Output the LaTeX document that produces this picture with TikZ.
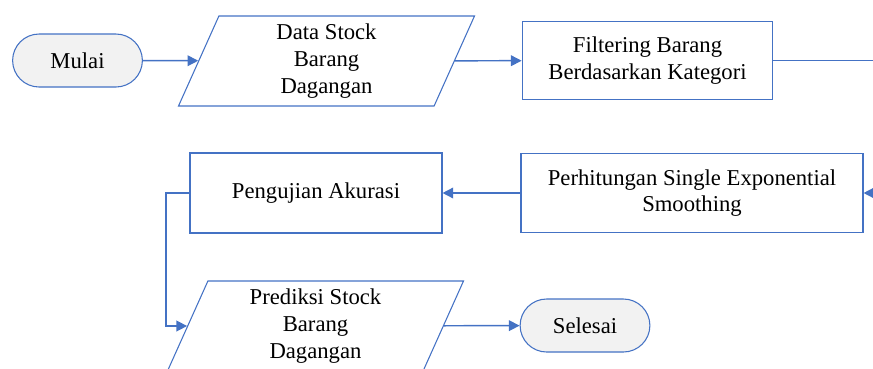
\documentclass[tikz,border=0pt]{standalone}
\usepackage{fontspec}
\setmainfont{Liberation Serif}
\usepackage{xcolor}
\definecolor{garis}{HTML}{4472C4}
\definecolor{isi}{HTML}{F2F2F2}
\usetikzlibrary{arrows.meta,shapes.geometric,shapes.misc}

\begin{document}
\begin{tikzpicture}[x=0.75pt, y=-0.75pt,
      every node/.append style={align=center,font=\fontsize{17}{20}\selectfont,draw=garis,line width=0.8pt},
      panah/.style={draw=garis,line width=1.1pt,-{Triangle[length=8pt,width=8pt]}}]
    \tikzstyle{terminal} = [rounded rectangle,fill=isi,minimum width=104pt,minimum height=39.75pt]
    \tikzstyle{proses} = [rectangle,minimum height=59pt]
    \tikzstyle{data} = [trapezium,trapezium left angle=64,trapezium right angle=116,
      trapezium stretches body,minimum width=222pt,minimum height=67.5pt,inner xsep=0pt]
    \useasboundingbox (0,0) rectangle (873,368);
    \node (mulai) [terminal] at (77.5,60.5) {Mulai};
    \node (datastock) [data] at (326.5,61) {Data Stock\\Barang\\Dagangan};
    \node (filtering) [proses,minimum width=188pt] at (647.5,60.5) {Filtering Barang\\Berdasarkan Kategori};
    \node (perhitungan) [proses,minimum width=256.5pt] at (692,193) {Perhitungan Single Exponential\\Smoothing};
    \node (pengujian) [proses,minimum width=189pt,minimum height=60pt] at (316,193) {Pengujian Akurasi};
    \node (prediksi) [data] at (315.5,326) {Prediksi Stock\\Barang\\Dagangan};
    \node (selesai) [terminal] at (585,325.5) {Selesai};
    \coordinate (kanan) at (882,120);
    \coordinate (kiri) at (166,260);
    % alur
    \draw[panah] (mulai) -- (datastock);
    \draw[panah] (datastock) -- (filtering);
    \draw[panah] (filtering.east) -| (kanan) |- (perhitungan.east);
    \draw[panah] (perhitungan) -- (pengujian);
    \draw[panah] (pengujian.west) -| (kiri) |- (prediksi.west);
    \draw[panah] (prediksi) -- (selesai);
  \end{tikzpicture}
\end{document}
